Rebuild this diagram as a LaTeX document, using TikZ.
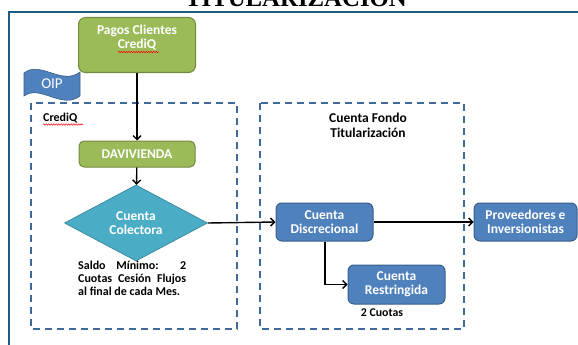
\documentclass[tikz,border=0pt]{standalone}
\usepackage{fontspec}
\setmainfont{Carlito}
\newfontfamily\titlefont{Liberation Serif}
\usetikzlibrary{shapes.geometric,arrows.meta,decorations.pathmorphing}
\definecolor{frameblue}{HTML}{1F5C84}
\definecolor{dashblue}{HTML}{41699A}
\definecolor{greenfill}{HTML}{9BBB59}
\definecolor{greenline}{HTML}{71893F}
\definecolor{bluefill}{HTML}{4F81BD}
\definecolor{blueline}{HTML}{385D8A}
\definecolor{tealfill}{HTML}{4BACC6}
\definecolor{tealline}{HTML}{3C8DA3}
\tikzset{
  greenbox/.style={draw=greenline, fill=greenfill, line width=1pt, rounded corners=7pt,
    text=white, font=\bfseries\fontsize{13.5}{14}\selectfont, align=center, inner sep=0pt},
  boxtext/.style={text=white, font=\bfseries\fontsize{13.5}{14}\selectfont, align=center, inner sep=0pt},
  bluebox/.style={draw=blueline, fill=bluefill, line width=1pt, rounded corners=6pt,
    text=white, font=\bfseries\fontsize{13.5}{14}\selectfont, align=center, inner sep=0pt,
    minimum width=97pt, minimum height=38pt},
  dashbox/.style={draw=dashblue, line width=1.5pt, dash pattern=on 7pt off 5pt},
  flow/.style={line width=1.4pt, -{Straight Barb[length=4pt,width=8pt]}},
  squiggle/.style={draw=red, line width=0.5pt, decorate,
    decoration={snake, amplitude=0.7pt, segment length=2.5pt}},
  label/.style={text=black, font=\bfseries\fontsize{12}{13}\selectfont, inner sep=0pt}
}
\begin{document}
\begin{tikzpicture}[x=1pt,y=-1pt]
\useasboundingbox (0,0) rectangle (578,345);
\clip (0,0) rectangle (578,345);
% title
\node[anchor=base, inner sep=0pt, font=\titlefont\bfseries\fontsize{24.8}{26}\selectfont] (title) at (296,7) {TITULARIZACION};
% frame
\draw[frameblue, line width=2pt] (9,346) -- (9,12) -- (579,12);
% dashed areas
\draw[dashbox] (31,103) rectangle (237,329);
\draw[dashbox] (260,103) rectangle (464,329);
% banner OIP
\path[fill=bluefill, draw=blueline, line width=0.6pt]
  (24,73) .. controls (40,60) and (62,86) .. (80,72)
  -- (80,96) .. controls (62,110) and (40,84) .. (24,96) -- cycle;
\node[text=white, font=\fontsize{15}{16}\selectfont, inner sep=0pt] (oip) at (52,84) {OIP};
% nodes
\node[greenbox, minimum width=117pt, minimum height=55pt] (pagos) at (137,45) {};
\node[boxtext] (pagostext) at (137,38) {Pagos Clientes\\CrediQ};
\node[greenbox, minimum width=116pt, minimum height=26pt, rounded corners=5pt] (davi) at (137,154) {DAVIVIENDA};
\node[diamond, draw=tealline, fill=tealfill, line width=0.8pt, minimum width=143pt, minimum height=60pt, inner sep=0pt,
  text=white, font=\bfseries\fontsize{13.5}{14}\selectfont, align=center] (colect) at (136,223) {Cuenta\\Colectora};
\node[bluebox] (discr) at (324.5,222) {Cuenta\\Discrecional};
\node[bluebox, minimum width=103pt] (prov) at (525.5,222) {Proveedores e\\Inversionistas};
\node[bluebox, minimum height=39pt] (restr) at (396.5,284.5) {Cuenta\\Restringida};
% labels
\node[label, anchor=west] (crediq) at (43,118) {CrediQ};
\node[label, align=center, font=\bfseries\fontsize{13.5}{15}\selectfont] (fondo) at (368,125.5) {Cuenta Fondo\\Titularización};
\node[label, anchor=north west, align=left] (saldo) at (78,261) {\makebox[108pt][s]{Saldo Mínimo:\ \ 2}\\\makebox[108pt][s]{Cuotas Cesión Flujos}\\al final de cada Mes.};
\node[label, font=\bfseries\fontsize{11.8}{13}\selectfont] (cuotas) at (382,313) {2 Cuotas};
% spell-check squiggles
\coordinate (sq1a) at (118,52); \coordinate (sq1b) at (159,52);
\coordinate (sq2a) at (43,124.5); \coordinate (sq2b) at (83,124.5);
\path[squiggle] (sq1a) -- (sq1b);
\path[squiggle] (sq2a) -- (sq2b);
% connectors
\draw[flow] (pagos) -- (davi);
\draw[flow] (davi) -- (colect);
\draw[flow] (colect.east) -- (discr.west);
\draw[flow] (discr.east) -- (prov.west);
\draw[flow] (discr.south -| 325,0) |- (restr.west);
\end{tikzpicture}
\end{document}
